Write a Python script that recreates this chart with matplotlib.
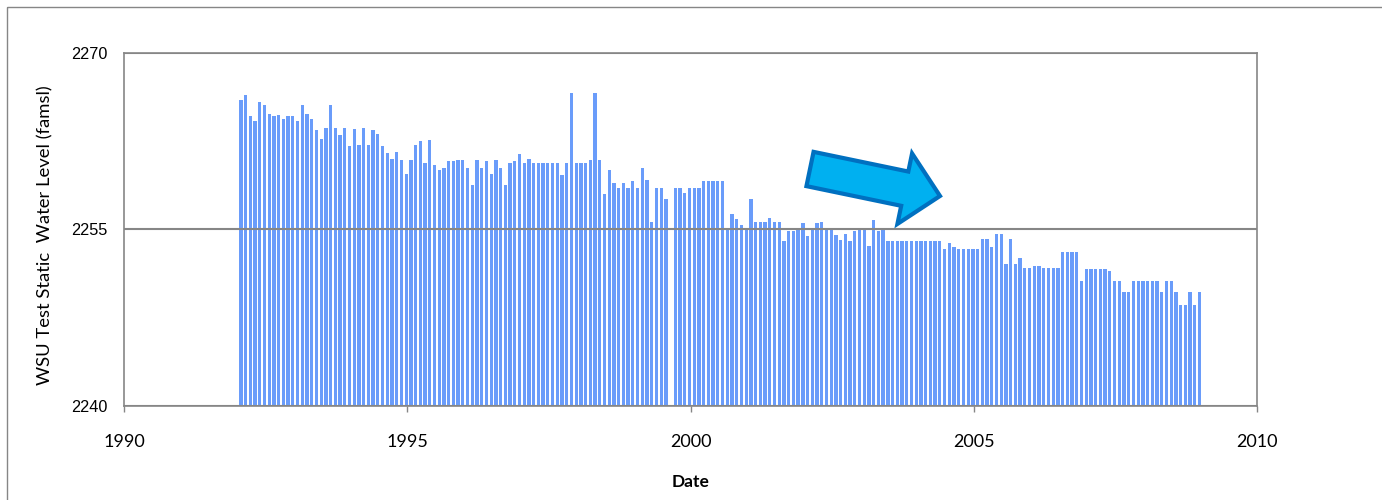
"""Recreate the WSU test static water level bar chart (monthly readings 1992-2008)."""

import numpy as np
import matplotlib
import matplotlib.pyplot as plt
from matplotlib.patches import FancyArrow, Rectangle
from matplotlib.transforms import Affine2D

matplotlib.use("Agg")

# monthly readings starting January 1992; None = no reading that month
START_YEAR = 1992
levels = [
    # 1992 - 1994
    2266.0, 2266.4, 2264.6, 2264.2, 2265.8, 2265.6, 2264.8, 2264.6, 2264.7, 2264.4, 2264.6, 2264.6,
    2264.2, 2265.6, 2264.8, 2264.4, 2263.4, 2262.7, 2263.6, 2265.6, 2263.6, 2263.0, 2263.6, 2262.1,
    2263.5, 2262.2, 2263.6, 2262.2, 2263.4, 2263.1, 2262.1, 2261.5, 2261.0, 2261.6, 2260.9, 2259.7,
    # 1995 - 1997
    2260.9, 2262.2, 2262.5, 2260.6, 2262.6, 2260.5, 2260.0, 2260.2, 2260.8, 2260.8, 2260.9, 2260.9,
    2260.2, 2258.8, 2260.9, 2260.2, 2260.8, 2259.7, 2260.9, 2260.2, 2258.8, 2260.6, 2260.8, 2261.4,
    2260.6, 2261.0, 2260.6, 2260.6, 2260.6, 2260.6, 2260.6, 2260.6, 2259.6, 2260.6, 2266.6, 2260.6,
    # 1998 - 2000
    2260.6, 2260.6, 2260.9, 2266.6, 2260.9, 2258.0, 2260.0, 2258.9, 2258.5, 2258.9, 2258.5, 2259.1,
    2258.5, 2260.2, 2259.2, 2255.6, 2258.5, 2258.5, 2257.6, None, 2258.5, 2258.5, 2258.1, 2258.5,
    2258.5, 2258.5, 2259.1, 2259.1, 2259.1, 2259.1, 2259.1, 2255.0, 2256.3, 2255.9, 2255.4, 2255.0,
    # 2001 - 2003
    2257.6, 2255.6, 2255.6, 2255.6, 2256.0, 2255.6, 2255.6, 2254.0, 2254.9, 2254.9, 2255.1, 2255.5,
    2254.4, 2255.1, 2255.5, 2255.6, 2255.1, 2255.1, 2254.5, 2254.1, 2254.6, 2254.0, 2254.9, 2255.1,
    2255.1, 2253.6, 2255.8, 2254.9, 2255.1, 2254.0, 2254.0, 2254.0, 2254.0, 2254.0, 2254.0, 2254.0,
    # 2004 - 2006
    2254.0, 2254.0, 2254.0, 2254.0, 2254.0, 2253.3, 2253.8, 2253.5, 2253.3, 2253.3, 2253.3, 2253.3,
    2253.3, 2254.2, 2254.2, 2253.5, 2254.6, 2254.6, 2252.1, 2254.2, 2252.1, 2252.6, 2251.7, 2251.7,
    2251.9, 2251.9, 2251.7, 2251.7, 2251.7, 2251.7, 2253.1, 2253.1, 2253.1, 2253.1, 2250.6, 2251.6,
    # 2007 - 2008
    2251.6, 2251.6, 2251.6, 2251.6, 2251.5, 2250.6, 2250.6, 2249.7, 2249.7, 2250.6, 2250.6, 2250.6,
    2250.6, 2250.6, 2250.6, 2249.7, 2250.6, 2250.6, 2249.7, 2248.6, 2248.6, 2249.7, 2248.6, 2249.7,
]

Y_MIN = 2240
Y_MAX = 2270
y_ticks = [2240, 2255, 2270]
x_ticks = [1990, 1995, 2000, 2005, 2010]

BAR_COLOR = "#6a9cfa"
AXIS_GRAY = "#868686"

months = np.arange(len(levels))
dates = START_YEAR + (months + 0.75) / 12
bar_x = [d for d, v in zip(dates, levels) if v is not None]
bar_h = [v - Y_MIN for v in levels if v is not None]

W, H = 1382, 500
fig = plt.figure(figsize=(W / 100, H / 100), dpi=100)
ax = fig.add_axes([124 / W, (H - 406) / H, (1257.4 - 124) / W, (406 - 52.7) / H])

ax.bar(bar_x, bar_h, bottom=Y_MIN, width=0.058, color=BAR_COLOR, linewidth=0)

ax.set_xlim(1990, 2010)
ax.set_ylim(Y_MIN, Y_MAX)
ax.set_xticks(x_ticks)
ax.set_yticks(y_ticks)
ax.yaxis.grid(True, color=AXIS_GRAY, linewidth=1.5)
ax.set_axisbelow(False)

for spine in ax.spines.values():
    spine.set_color(AXIS_GRAY)
    spine.set_linewidth(1.2)

ax.tick_params(axis="x", direction="out", length=4, width=1, color=AXIS_GRAY, pad=16)
ax.tick_params(axis="y", length=0, pad=12)
for label in ax.get_xticklabels():
    label.set_fontfamily("Lato")
    label.set_fontsize(13)
for label in ax.get_yticklabels():
    label.set_fontfamily("Liberation Sans")
    label.set_fontsize(11.7)

fig.text(691 / W, 1 - 482 / H, "Date", ha="center", va="center",
         fontfamily="Lato", fontweight="bold", fontsize=12.5)
fig.text(45 / W, 1 - 235 / H, "WSU Test Static  Water Level (famsl)", rotation=90,
         ha="center", va="center", fontfamily="Lato", fontsize=13.3)

# pixel coordinates (y downward) for the decorations
px = Affine2D().scale(1 / W, -1 / H).translate(0, 1) + fig.transFigure

fig.add_artist(Rectangle((7, 7), W + 20, H + 20, transform=px, fill=False,
                         edgecolor=AXIS_GRAY, linewidth=1))
fig.add_artist(FancyArrow(810, 169, 130, 27, width=35, head_width=72, head_length=36,
                          length_includes_head=True, facecolor="#00b0f0",
                          edgecolor="#0070c0", linewidth=3, transform=px))

fig.savefig("out.png", dpi=100)
